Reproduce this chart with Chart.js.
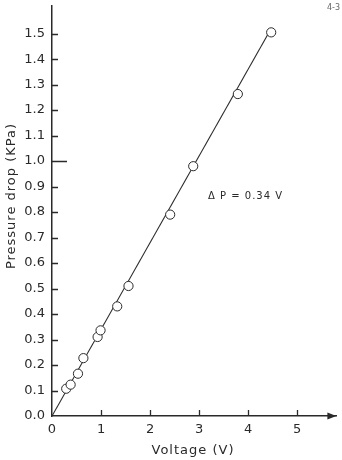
<!DOCTYPE html>
<html><head><meta charset="utf-8">
<script src="https://cdn.jsdelivr.net/npm/chart.js@4/dist/chart.umd.min.js"></script>
<style>html,body{margin:0;padding:0;background:#fff;}canvas{display:block;}</style>
</head><body>
<canvas id="c" width="342" height="460"></canvas>
<script>
// Measured points (Voltage in V, pressure drop in kPa)
const voltage  = [0.29, 0.38, 0.53, 0.64, 0.93, 0.99, 1.33, 1.56, 2.41, 2.88, 3.79, 4.47];
const pressure = [0.107, 0.123, 0.166, 0.227, 0.31, 0.336, 0.43, 0.51, 0.79, 0.98, 1.263, 1.505];
// Fitted line end points (ΔP = 0.34 V)
const fitVoltage  = [0, 4.47];
const fitPressure = [0, 1.52];
// Axis ticks
const xTicks = [0, 1, 2, 3, 4, 5];
const xTickLabels = ['0', '1', '2', '3', '4', '5'];
const yTicks = [0, 0.1, 0.2, 0.3, 0.4, 0.5, 0.6, 0.7, 0.8, 0.9, 1.0, 1.1, 1.2, 1.3, 1.4, 1.5];
const yTickLabels = ['0.0','0.1','0.2','0.3','0.4','0.5','0.6','0.7','0.8','0.9','1.0','1.1','1.2','1.3','1.4','1.5'];
// Texts
const xTitle = 'Voltage (V)';
const yTitle = 'Pressure drop (KPa)';
const equation = 'Δ P = 0.34 V';
const pageLabel = '4-3';

const INK = '#2a2a2a';
const FONT = 'DejaVu Sans';

const annot = {
  id: 'annot',
  afterDraw(chart) {
    const {ctx, chartArea: a, scales: {x, y}} = chart;
    ctx.save();
    ctx.strokeStyle = INK; ctx.fillStyle = INK; ctx.lineWidth = 1.3;
    const yb = y.getPixelForValue(0);
    const xl = x.getPixelForValue(0);
    // inward tick marks, taken from the library's own tick lists
    ctx.beginPath();
    x.ticks.forEach(t => {
      if (t.value === 0) return;
      const px = Math.round(x.getPixelForValue(t.value)) + 0.5;
      ctx.moveTo(px, yb); ctx.lineTo(px, yb - 6);
    });
    y.ticks.forEach(t => {
      if (t.value === 0) return;
      const py = Math.round(y.getPixelForValue(t.value)) + 0.5;
      ctx.moveTo(xl, py); ctx.lineTo(xl + (Math.abs(t.value - 1) < 1e-9 ? 15 : 6), py);
    });
    ctx.stroke();
    // arrow head on x axis
    ctx.beginPath();
    ctx.moveTo(a.right, yb);
    ctx.lineTo(a.right - 9, yb - 3.5);
    ctx.lineTo(a.right - 9, yb + 3.5);
    ctx.closePath(); ctx.fill();
    // titles
    ctx.letterSpacing = '1px';
    ctx.font = '13px "' + FONT + '"';
    ctx.textAlign = 'center'; ctx.textBaseline = 'middle';
    ctx.fillText(xTitle, 193, 451);
    ctx.save();
    ctx.translate(12, 196);
    ctx.rotate(-Math.PI / 2);
    ctx.fillText(yTitle, 0, 0);
    ctx.restore();
    // equation
    ctx.font = '10px "' + FONT + '"';
    ctx.textAlign = 'left';
    ctx.fillText(equation, 208, 196);
    // page label
    ctx.letterSpacing = '0px';
    ctx.font = '8px "' + FONT + '"';
    ctx.fillStyle = '#666';
    ctx.fillText(pageLabel, 327, 8);
    ctx.restore();
  }
};

new Chart(document.getElementById('c'), {
  type: 'scatter',
  data: {
    datasets: [
      {
        data: voltage.map((v, i) => ({x: v, y: pressure[i]})),
        pointRadius: 4.6,
        pointBackgroundColor: '#fff',
        pointBorderColor: INK,
        pointBorderWidth: 1,
        showLine: false,
        order: 1
      },
      {
        type: 'line',
        data: fitVoltage.map((v, i) => ({x: v, y: fitPressure[i]})),
        borderColor: INK,
        borderWidth: 1.1,
        pointRadius: 0,
        fill: false,
        order: 2
      }
    ]
  },
  options: {
    responsive: false,
    animation: false,
    events: [],
    layout: {padding: {top: 5, right: 0, left: 0, bottom: 0}},
    plugins: {legend: {display: false}, tooltip: {enabled: false}},
    scales: {
      x: {
        type: 'linear', min: 0, max: 5.8,
        afterBuildTicks: s => { s.ticks = xTicks.map(v => ({value: v})); },
        afterFit: s => { s.height = 44; s.paddingLeft = 0; s.paddingRight = 0; },
        ticks: {
          color: INK, padding: 6,
          font: {family: FONT, size: 13},
          callback: (v) => xTickLabels[xTicks.indexOf(v)]
        },
        grid: {display: true, drawOnChartArea: false, drawTicks: false},
        border: {display: true, color: INK, width: 1.5}
      },
      y: {
        type: 'linear', min: 0, max: 1.61,
        afterBuildTicks: s => { s.ticks = yTicks.map(v => ({value: v})); },
        afterFit: s => { s.width = 52; s.paddingTop = 0; s.paddingBottom = 0; },
        ticks: {
          color: INK, padding: 7,
          font: {family: FONT, size: 13},
          callback: (v) => yTickLabels[yTicks.findIndex(t => Math.abs(t - v) < 1e-9)]
        },
        grid: {display: true, drawOnChartArea: false, drawTicks: false},
        border: {display: true, color: INK, width: 1.5}
      }
    }
  },
  plugins: [annot]
});
</script>
</body></html>
